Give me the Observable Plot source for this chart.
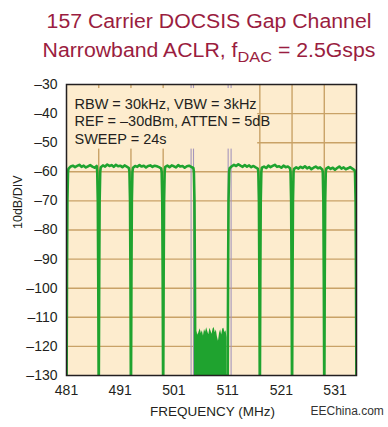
<!DOCTYPE html>
<html><head><meta charset="utf-8">
<script src="https://cdn.jsdelivr.net/npm/d3@7"></script>
<script src="https://cdn.jsdelivr.net/npm/@observablehq/plot@0.6"></script>
<style>
html,body{margin:0;padding:0;background:#fff;}
body{width:388px;height:427px;overflow:hidden;position:relative;font-family:"Liberation Sans",Arial,Helvetica,sans-serif;}
.t{position:absolute;left:0;width:418px;text-align:center;color:#9a1d40;font-size:19.5px;line-height:20px;white-space:nowrap;transform:scaleX(1.09);transform-origin:209px 0;}
.t sub{font-size:15px;vertical-align:-5px;line-height:0;}
#chart{position:absolute;left:0;top:0;}
</style></head>
<body>
<div class="t" style="top:11px">157 Carrier DOCSIS Gap Channel</div>
<div class="t" style="top:40px">Narrowband ACLR, f<sub>DAC</sub> = 2.5Gsps</div>
<div id="chart"></div>
<script>
// ---- data ----
const yTicks = [-30, -40, -50, -60, -70, -80, -90, -100, -110, -120, -130];
const xTicks = [481, 491, 501, 511, 521, 531];
const xGrid = [487, 493, 499, 517, 523, 529];
const gapMarkers = [504.2, 504.65, 511.1, 511.65];
const carrierStarts = [481, 487, 493, 499, 511, 517, 523, 529];
const carrierWidth = 6;
const skirtOffsets = [0.02, 0.09, 0.17, 0.28];
const skirtLevels = [-130, -96, -70, -60];
const carrierTops = [
  [-58.9,-58.2,-57.9,-58.4,-58.0,-57.6,-58.3,-57.9,-58.5,-58.1,-57.7,-58.2,-58.6,-58.0],
  [-58.4,-57.8,-58.2,-57.5,-58.0,-57.7,-58.3,-57.6,-58.1,-57.9,-58.4,-57.8,-58.2,-58.7],
  [-58.6,-58.0,-58.3,-57.7,-58.2,-57.9,-58.5,-58.0,-57.8,-58.3,-57.9,-58.1,-58.4,-58.8],
  [-58.3,-57.9,-58.4,-57.8,-58.1,-58.5,-57.7,-58.2,-58.0,-58.6,-58.1,-57.9,-58.3,-58.7],
  [-58.8,-58.1,-57.6,-58.0,-57.4,-57.9,-58.3,-57.7,-58.2,-57.8,-58.4,-58.0,-58.5,-58.9],
  [-58.6,-58.2,-58.7,-57.9,-58.4,-58.0,-57.6,-58.3,-58.1,-58.6,-57.9,-58.4,-58.2,-58.8],
  [-59.0,-58.5,-58.9,-58.3,-58.7,-58.1,-58.8,-58.4,-59.1,-58.6,-58.2,-58.8,-58.5,-59.2],
  [-58.9,-58.4,-59.0,-58.6,-59.3,-58.7,-58.2,-58.9,-58.5,-59.1,-58.8,-58.4,-58.9,-59.4]
];
const gapStart = 505.1, gapEnd = 510.9;
const gapLevels = [-117.5,-114.8,-116.2,-115.0,-113.9,-115.6,-114.6,-116.4,-114.2,-115.1,
  -113.6,-114.9,-116.0,-113.8,-114.7,-115.8,-114.0,-113.5,-115.3,-114.4,
  -116.8,-118.2,-115.5,-114.3,-116.1,-114.0,-113.8,-115.2,-114.6,-117.0];
const noteLines = ["RBW = 30kHz, VBW = 3kHz", "REF = \u201330dBm, ATTEN = 5dB", "SWEEP = 24s"];
const noteBox = [{x1: 481, x2: 516.6, y1: -52.2, y2: -31.4}];

// ---- build tables ----
const trace = [];
carrierStarts.forEach((s, i) => {
  const e = s + carrierWidth;
  const tops = carrierTops[i];
  skirtOffsets.forEach((o, k) => trace.push({f: s + o, dB: skirtLevels[k]}));
  const a = s + 0.38, b = e - 0.38;
  tops.forEach((v, k) => trace.push({f: a + (b - a) * k / (tops.length - 1), dB: v}));
  for (let k = skirtOffsets.length - 1; k >= 0; k--) trace.push({f: e - skirtOffsets[k], dB: skirtLevels[k]});
});
const gap = gapLevels.map((v, k) => ({f: gapStart + (gapEnd - gapStart) * k / (gapLevels.length - 1), dB: v}));

const green = "#1fa32f", peach = "#fdecce", tan = "#c9a267", ink = "#231f20";
const fmt = d => String(d).replace("-", "\u2013");

const chart = Plot.plot({
  width: 388, height: 427,
  marginTop: 84, marginBottom: 52, marginLeft: 66, marginRight: 32,
  style: {fontFamily: "'Liberation Sans', Arial, sans-serif", fontSize: "14px", color: ink, background: "transparent"},
  x: {domain: [481, 535]},
  y: {domain: [-130, -30]},
  marks: [
    Plot.frame({fill: peach}),
    Plot.ruleY(yTicks.slice(1, -1), {stroke: tan, strokeWidth: 1.4}),
    Plot.ruleX(xGrid, {stroke: tan, strokeWidth: 1.4}),
    Plot.ruleX(gapMarkers, {stroke: "#a596bb", strokeWidth: 1.1}),
    Plot.rect(noteBox, {x1: "x1", x2: "x2", y1: "y1", y2: "y2", fill: peach}),
    Plot.areaY(gap, {x: "f", y1: -130, y2: "dB", fill: green, clip: true}),
    Plot.line(trace, {x: "f", y: "dB", stroke: green, strokeWidth: 2.6, strokeLinejoin: "round", clip: true}),
    Plot.frame({stroke: ink, strokeWidth: 1.5}),
    Plot.axisY(yTicks, {tickSize: 0, tickPadding: 9, tickFormat: fmt, label: null, fontSize: 14}),
    Plot.axisX(xTicks, {tickSize: 0, tickPadding: 10, tickFormat: d => String(d), label: null, fontSize: 14}),
    Plot.text([noteLines.join("\n")], {frameAnchor: "top-left", textAnchor: "start", lineAnchor: "top", dx: 8, dy: 12, fontSize: 14.5, lineHeight: 1.2, fill: ink}),
    Plot.text(["10dB/DIV"], {frameAnchor: "left", rotate: -90, dx: -49, dy: -1, fontSize: 12.5, fill: ink}),
    Plot.text(["FREQUENCY (MHz)"], {frameAnchor: "bottom", dx: 1, dy: 40, fontSize: 13.5, fill: ink}),
    Plot.text(["EEChina.com"], {frameAnchor: "bottom-right", textAnchor: "start", dx: -46, dy: 39, fontSize: 12, fill: "#333"})
  ]
});
document.getElementById("chart").append(chart);
</script>
</body></html>
